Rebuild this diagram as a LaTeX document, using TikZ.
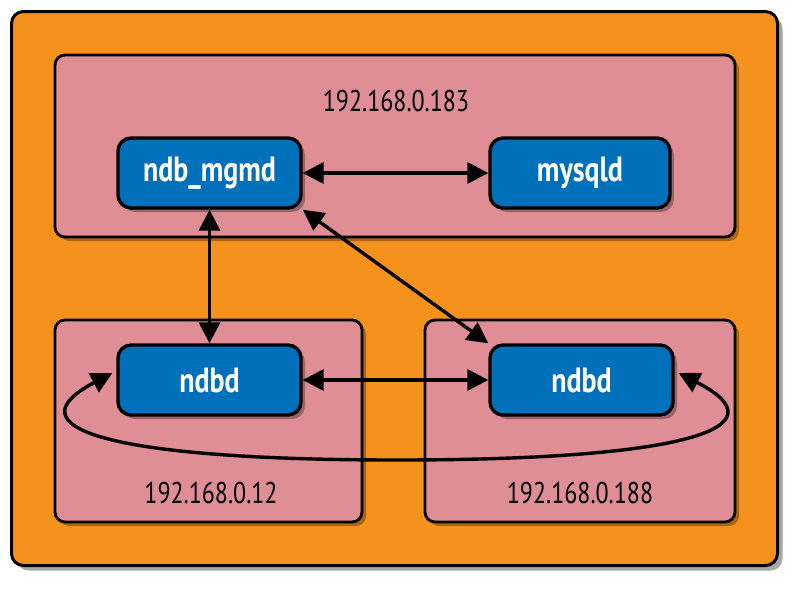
\documentclass[tikz,border=0pt]{standalone}
\usepackage{fontspec}
\setmainfont{PT Sans}[FakeStretch=0.8]
\usetikzlibrary{arrows.meta,shadows,calc}
\definecolor{orangebg}{RGB}{245,146,30}
\definecolor{pinkbg}{RGB}{222,142,148}
\definecolor{bluebox}{RGB}{0,112,186}
\begin{document}
\begin{tikzpicture}[x=1pt,y=-1pt,
  outerbox/.style={draw=black, line width=3pt, fill=orangebg, rounded corners=12pt,
    drop shadow={shadow xshift=5pt, shadow yshift=-5pt, opacity=0.35, fill=black}},
  hostbox/.style={draw=black, line width=2.8pt, fill=pinkbg, rounded corners=10pt,
    drop shadow={shadow xshift=4pt, shadow yshift=-4pt, opacity=0.3, fill=black}},
  procbox/.style={draw=black, line width=3.4pt, fill=bluebox, rounded corners=13pt,
    text=white, font=\bfseries\fontsize{35}{35}\selectfont,
    minimum width=183pt, minimum height=70pt, inner sep=0pt,
    drop shadow={shadow xshift=4pt, shadow yshift=-4pt, opacity=0.3, fill=black}},
  iplabel/.style={font=\fontsize{30}{30}\selectfont, text=black},
  conn/.style={line width=3.4pt, {Triangle[length=21pt,width=21pt]}-{Triangle[length=21pt,width=21pt]}}
]
\useasboundingbox[fill=white] (0,0) rectangle (800,589);

\node[outerbox, minimum width=766pt, minimum height=554pt] (outer) at (394.5,288.5) {};

\node[hostbox, minimum width=680pt, minimum height=182pt] (hosttop) at (395,146) {};
\node[hostbox, minimum width=307pt, minimum height=202pt] (hostleft) at (208.5,421) {};
\node[hostbox, minimum width=310pt, minimum height=202pt] (hostright) at (580,421) {};

\node[iplabel] (iptop) at (396,101) {192.168.0.183};
\node[iplabel] (ipleft) at (211,493) {192.168.0.12};
\node[iplabel] (ipright) at (580,493) {192.168.0.188};

\node[procbox] (mgmd) at (209.5,173) {ndb\_mgmd};
\node[procbox, minimum width=180pt] (mysqld) at (580,173) {mysqld};
\node[procbox] (ndbdL) at (209.5,380) {ndbd};
\node[procbox] (ndbdR) at (581.5,380) {ndbd};

\draw[conn] (mgmd.east) -- (mysqld.west);
\draw[conn] (mgmd.south) -- (ndbdL.north);
\draw[conn] (mgmd.south east) -- (ndbdR.north west);
\draw[conn] (ndbdL.east) -- (ndbdR.west);

\coordinate (loopbottom) at (397,460);
\draw[conn] ([shift={(-4,-7)}]ndbdL.west) .. controls (8,428) and (110,460) .. (loopbottom)
  .. controls (684,460) and (786,428) .. ([shift={(4,-7)}]ndbdR.east);
\end{tikzpicture}
\end{document}
